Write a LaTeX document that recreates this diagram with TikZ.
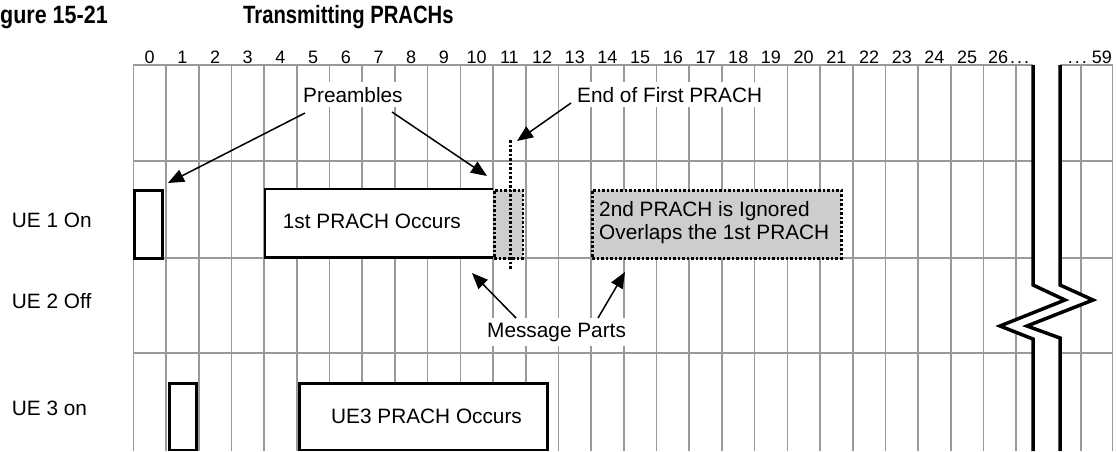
\documentclass[tikz,border=0pt]{standalone}
\usepackage{fontspec}
\setmainfont{Liberation Sans}
\usetikzlibrary{arrows.meta}
\definecolor{gridgray}{HTML}{9A9A9A}
\definecolor{boxgray}{HTML}{CDCDCD}
\tikzset{
  gridline/.style={draw=gridgray, line width=1.6pt},
  solidbox/.style={draw=black, line width=2.8pt, fill=white, inner sep=0pt, anchor=north west},
  plainbox/.style={fill=white, inner sep=0pt, anchor=north west},
  solidline/.style={draw=black, line width=2.8pt, line join=miter},
  dotbox/.style={draw=black, line width=2.5pt, dash pattern=on 2.5pt off 2pt, fill=boxgray, inner sep=0pt, anchor=north west},
  dotline/.style={draw=black, line width=2.5pt, dash pattern=on 2.5pt off 2pt},
  breakline/.style={draw=black, line width=3.5pt, line join=miter},
  arr/.style={draw=black, line width=1.5pt, -{Triangle[length=16pt,width=13pt]}},
  lbl/.style={font=\fontsize{20.8}{23}\selectfont, fill=white, inner xsep=3pt, inner ysep=5pt, anchor=base west},
  txt/.style={font=\fontsize{20.8}{23}\selectfont, inner sep=0pt, anchor=base west},
  num/.style={font=\fontsize{18}{20}\selectfont, inner sep=0pt, anchor=base},
  ttl/.style={font=\fontsize{25}{28}\selectfont\bfseries, inner sep=0pt, anchor=base west}
}
\begin{document}
\begin{tikzpicture}[x=1pt,y=-1pt]
\useasboundingbox (0,0) rectangle (1116,451);
% title
\node[ttl] (fig) at (0,23) {\scalebox{0.86}[1]{gure 15-21}};
\node[ttl] (title) at (243,23) {\scalebox{0.81}[1]{Transmitting PRACHs}};
% grid
\foreach \k in {0,...,27}
  \draw[gridline] ({133.3+32.7*\k},65) -- ({133.3+32.7*\k},451);
\draw[gridline] (1081,65) -- (1081,451);
\draw[gridline] (1112.5,65) -- (1112.5,451);
\foreach \y in {65,161,258,353}
  \draw[gridline] (132.5,\y) -- (1113,\y);
% numbers
\foreach \k in {0,...,25}
  \node[num] (n\k) at ({133.3+32.7*(\k+0.5)},63) {\k};
\node[num, anchor=base west] (n26) at (988,63) {26\kern2pt.\kern2pt.\kern2pt.};
\node[num, anchor=base east] (n59) at (1112,63) {.\kern2pt.\kern2pt.\kern5pt59};
% break
\fill[white] (1033,62) -- (1033,285) -- (1065,300) -- (1000,326) -- (1033,339) -- (1033,451)
  -- (1060,451) -- (1060,338) -- (1027,326) -- (1093,300) -- (1060,285) -- (1060,62) -- cycle;
\draw[breakline] (1033,65) -- (1033,285) -- (1065,300) -- (1000,326) -- (1033,339) -- (1033,451);
\draw[breakline] (1060,65) -- (1060,285) -- (1093,300) -- (1027,326) -- (1060,338) -- (1060,451);
% row labels
\node[txt] (ue1) at (11.7,227.5) {UE 1 On};
\node[txt] (ue2) at (11.7,308) {UE 2 Off};
\node[txt] (ue3) at (11.7,415) {UE 3 on};
% UE1
\node[solidbox, minimum width=28pt, minimum height=68pt] (pre1) at (133.3,189) {};
\node[plainbox, minimum width=228pt, minimum height=68pt] (p1) at (265,189) {};
\draw[solidline] (p1.north east) -- (p1.north west) -- (p1.south west) -- (p1.south east);
\node[txt] (p1t) at (282.7,228) {1st PRACH Occurs};
\node[dotbox, minimum width=28.5pt, minimum height=68pt] (m1) at (493,189) {};
\coordinate (eoftop) at (510.7,140);
\coordinate (eofbot) at (510.7,270);
\draw[dotline] (eoftop) -- (eofbot);
\node[dotbox, minimum width=249pt, minimum height=68pt] (m2) at (591,189) {};
\node[txt] (m2a) at (599,216.7) {2nd PRACH is Ignored};
\node[txt] (m2b) at (599,239.5) {Overlaps the 1st PRACH};
% UE3
\node[solidbox, minimum width=27pt, minimum height=66.5pt] (pre3) at (168,382) {};
\node[solidbox, minimum width=248pt, minimum height=66.5pt] (p3) at (298,382) {};
\node[txt] (p3t) at (331,423) {UE3 PRACH Occurs};
% labels
\node[lbl] (pre) at (300,102) {Preambles};
\node[lbl] (eof) at (574,102) {End of First PRACH};
\node[lbl] (msg) at (484,337) {Message Parts};
% arrows
\coordinate (a1s) at (305,113);
\coordinate (a1e) at (168,183);
\coordinate (a2s) at (392,112);
\coordinate (a2e) at (487,176);
\coordinate (a3s) at (571,103);
\coordinate (a3e) at (517,141);
\coordinate (a4s) at (516,318);
\coordinate (a4e) at (472,273);
\coordinate (a5s) at (598,318);
\coordinate (a5e) at (625,272);
\draw[arr] (a1s) -- (a1e);
\draw[arr] (a2s) -- (a2e);
\draw[arr] (a3s) -- (a3e);
\draw[arr] (a4s) -- (a4e);
\draw[arr] (a5s) -- (a5e);
\end{tikzpicture}
\end{document}
